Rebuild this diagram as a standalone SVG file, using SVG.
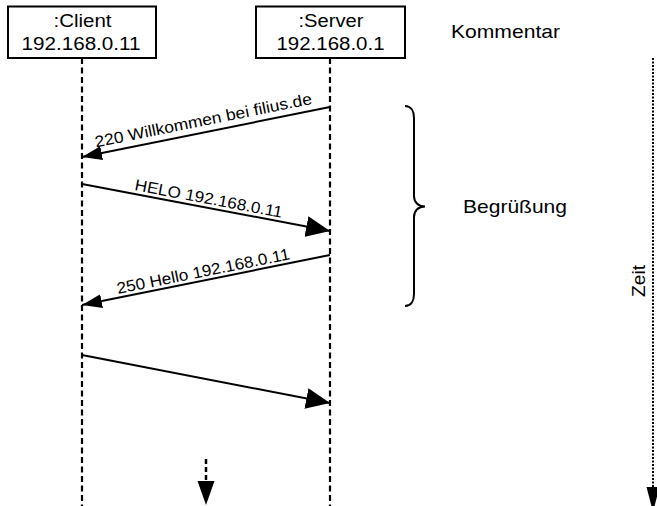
<svg xmlns="http://www.w3.org/2000/svg" width="657" height="506" viewBox="0 0 657 506">
<style>
text{font-family:"Liberation Sans",Arial,sans-serif;fill:#000}
.box{fill:#fff;stroke:#000;stroke-width:2}
.life{stroke:#000;stroke-width:2.2;stroke-dasharray:6 3.5;fill:none}
.msg{stroke:#000;stroke-width:2;fill:none}
.bt{font-size:18px;text-anchor:middle}
.ct{font-size:19px}
.lb{font-size:16px}
</style>
<defs>
<marker id="ahS" markerUnits="userSpaceOnUse" markerWidth="20" markerHeight="14" refX="20" refY="7" orient="auto" viewBox="0 0 20 14"><path d="M0,0 L20,7 L0,14 z" fill="#000"/></marker>
<marker id="ahL" markerUnits="userSpaceOnUse" markerWidth="24" markerHeight="21" refX="24" refY="10.5" orient="auto" viewBox="0 0 24 21"><path d="M0,0 L24,10.5 L0,21 z" fill="#000"/></marker>
</defs>
<g id="client">
<line class="life" x1="82" y1="58" x2="82" y2="506"/>
<rect class="box" x="8" y="6.5" width="148" height="51.5"/>
<text class="bt" x="82.5" y="27" textLength="58" lengthAdjust="spacingAndGlyphs">:Client</text>
<text class="bt" x="81" y="50" textLength="119" lengthAdjust="spacingAndGlyphs">192.168.0.11</text>
</g>
<g id="server">
<line class="life" x1="330" y1="58" x2="330" y2="506"/>
<rect class="box" x="256" y="6.5" width="149" height="51.5"/>
<text class="bt" x="331" y="27" textLength="65" lengthAdjust="spacingAndGlyphs">:Server</text>
<text class="bt" x="330.5" y="50" textLength="108" lengthAdjust="spacingAndGlyphs">192.168.0.1</text>
</g>
<g id="kommentar">
<text class="ct" x="451" y="38" textLength="109" lengthAdjust="spacingAndGlyphs">Kommentar</text>
</g>
<g id="begruessung">
<path d="M405,106 C411,106 414,111 414,118 L414,196 C414,202 418,206.5 425,206.5 C418,206.5 414,211 414,217 L414,294 C414,301 411,306 405,306" fill="none" stroke="#000" stroke-width="2"/>
<text class="ct" x="463" y="213" textLength="104" lengthAdjust="spacingAndGlyphs">Begrüßung</text>
</g>
<g id="zeit">
<line x1="653" y1="58" x2="653" y2="490" stroke="#000" stroke-width="2" stroke-dasharray="2 1.5"/>
<path d="M646.5,487 L659.5,487 L653,512 z" fill="#000"/>
<text class="ct" transform="translate(645,297) rotate(-90)" textLength="32" lengthAdjust="spacingAndGlyphs">Zeit</text>
</g>
<g id="fortsetzung">
<line x1="206" y1="459" x2="206" y2="482" stroke="#000" stroke-width="2.5" stroke-dasharray="5 3"/>
<path d="M197.5,481 L214.5,481 L206,505 z" fill="#000"/>
</g>
<g id="connectors">
<line class="msg" x1="330" y1="107" x2="82" y2="157" marker-end="url(#ahS)"/>
<text class="lb" transform="translate(96,147.5) rotate(-11.4)" textLength="221" lengthAdjust="spacingAndGlyphs">220 Willkommen bei filius.de</text>
<line class="msg" x1="82" y1="184" x2="330" y2="231" marker-end="url(#ahL)"/>
<text class="lb" transform="translate(134,190) rotate(10.7)" textLength="150" lengthAdjust="spacingAndGlyphs">HELO 192.168.0.11</text>
<line class="msg" x1="330" y1="255" x2="82" y2="305" marker-end="url(#ahS)"/>
<text class="lb" transform="translate(118,294) rotate(-11.4)" textLength="176" lengthAdjust="spacingAndGlyphs">250 Hello 192.168.0.11</text>
<line class="msg" x1="82" y1="355" x2="330" y2="403" marker-end="url(#ahL)"/>
</g>
</svg>
